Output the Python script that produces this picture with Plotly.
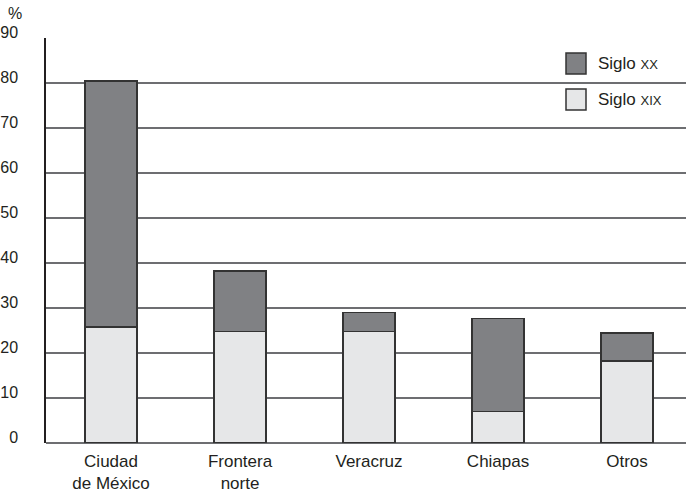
import plotly.graph_objects as go

categories = ["Ciudad<br>de México", "Frontera<br>norte", "Veracruz", "Chiapas", "Otros"]
siglo_xix = [25.8, 24.8, 24.8, 7.0, 18.2]
siglo_xx = [54.6, 13.4, 4.2, 20.7, 6.2]
y_ticks = [0, 10, 20, 30, 40, 50, 60, 70, 80, 90]

FONT = "Liberation Sans, Arial, sans-serif"
TXT = "#231f20"
idx = list(range(len(categories)))

fig = go.Figure()
fig.add_trace(go.Bar(x=idx, y=siglo_xix, name="Siglo XIX", width=0.403,
                     marker=dict(color="#e6e7e8", line=dict(color="#333333", width=1.5)),
                     showlegend=False))
fig.add_trace(go.Bar(x=idx, y=siglo_xx, name="Siglo XX", width=0.403,
                     marker=dict(color="#808184", line=dict(color="#333333", width=1.5)),
                     showlegend=False))

fig.update_layout(
    barmode="stack",
    width=686, height=495,
    margin=dict(l=46, r=0, t=38, b=52),
    paper_bgcolor="white", plot_bgcolor="white",
    font=dict(family=FONT, color=TXT),
    xaxis=dict(range=[-0.504, 4.457], tickmode="array", tickvals=idx, ticktext=categories,
               showgrid=False, showline=False, zeroline=False, ticks="", automargin=False,
               ticklabelstandoff=6,
               tickfont=dict(size=17, color=TXT), fixedrange=True),
    yaxis=dict(range=[0, 90], tickmode="array", tickvals=y_ticks,
               showgrid=True, gridcolor="#6d6e71", gridwidth=1.5,
               zeroline=True, zerolinecolor="#6d6e71", zerolinewidth=1.5,
               showline=True, linecolor="#231f20", linewidth=1.5, automargin=False,
               ticks="", ticklabelstandoff=23, ticklabelshift=-6,
               tickfont=dict(size=16, color=TXT), fixedrange=True),
)

# legend drawn manually to match the boxed swatches
legend_items = [("Siglo <span style='font-size:13px'>XX</span>", "#808184", 0.911, 0.963),
                ("Siglo <span style='font-size:13px'>XIX</span>", "#e6e7e8", 0.822, 0.874)]
for label, color, y0, y1 in legend_items:
    fig.add_shape(type="rect", xref="paper", yref="paper", x0=0.8125, x1=0.84375, y0=y0, y1=y1,
                  fillcolor=color, line=dict(color="#333333", width=1.5), layer="above")
    fig.add_annotation(xref="paper", yref="paper", x=0.859, y=(y0 + y1) / 2, text=label,
                       showarrow=False, xanchor="left", yanchor="middle",
                       font=dict(size=17, color=TXT, family=FONT))

fig.add_annotation(xref="paper", yref="paper", x=-0.048, y=1.06, text="%", showarrow=False,
                   xanchor="center", yanchor="middle", borderpad=0,
                   font=dict(size=16, color=TXT, family=FONT))

fig.write_html("out.html", config={"displayModeBar": False},
               post_script="document.body.style.margin='0';")
